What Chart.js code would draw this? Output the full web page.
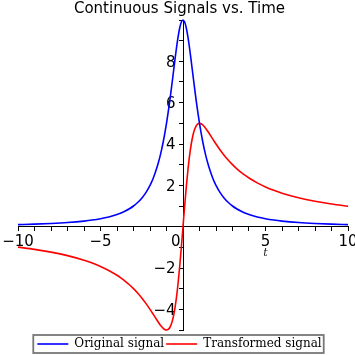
<!DOCTYPE html>
<html><head><meta charset="utf-8">
<script src="https://cdn.jsdelivr.net/npm/chart.js@4/dist/chart.umd.min.js"></script>
<style>html,body{margin:0;padding:0;background:#fff}#wrap{width:355px;height:355px}</style>
</head><body><div id="wrap"><canvas id="c" width="355" height="355"></canvas></div>
<script>
const timeValues = [-10,-9,-8,-7,-6,-5.5,-5,-4.5,-4,-3.75,-3.5,-3.25,-3,-2.75,-2.5,-2.25,
  -2,-1.9,-1.8,-1.7,-1.6,-1.5,-1.4,-1.3,-1.2,-1.1,-1,-0.9,-0.8,-0.7,-0.6,-0.5,-0.4,-0.3,-0.2,-0.1,
  0,0.1,0.2,0.3,0.4,0.5,0.6,0.7,0.8,0.9,1,1.1,1.2,1.3,1.4,1.5,1.6,1.7,1.8,1.9,2,
  2.25,2.5,2.75,3,3.25,3.5,3.75,4,4.5,5,5.5,6,7,8,9,10];
const originalSignal = [0.099,0.122,0.154,0.200,0.270,0.320,0.385,0.471,0.588,0.664,0.755,0.865,1.000,1.168,1.379,1.649,
  2.000,2.169,2.358,2.571,2.809,3.077,3.378,3.717,4.098,4.525,5.000,5.525,6.098,6.711,7.353,8.000,8.621,9.174,9.615,9.901,
  10.00,9.901,9.615,9.174,8.621,8.000,7.353,6.711,6.098,5.525,5.000,4.525,4.098,3.717,3.378,3.077,2.809,2.571,2.358,2.169,2.000,
  1.649,1.379,1.168,1.000,0.865,0.755,0.664,0.588,0.471,0.385,0.320,0.270,0.200,0.154,0.122,0.099];
const transformedSignal = [-0.990,-1.098,-1.231,-1.400,-1.622,-1.760,-1.923,-2.118,-2.353,-2.490,-2.642,-2.811,-3.000,-3.212,-3.448,-3.711,
  -4.000,-4.121,-4.245,-4.370,-4.494,-4.615,-4.730,-4.833,-4.918,-4.977,-5.000,-4.972,-4.878,-4.698,-4.412,-4.000,-3.448,-2.752,-1.923,-0.990,
  0.000,0.990,1.923,2.752,3.448,4.000,4.412,4.698,4.878,4.972,5.000,4.977,4.918,4.833,4.730,4.615,4.494,4.370,4.245,4.121,4.000,
  3.711,3.448,3.212,3.000,2.811,2.642,2.490,2.353,2.118,1.923,1.760,1.622,1.400,1.231,1.098,0.990];
const seriesLabels = ['Original signal','Transformed signal'];
const xTickLabels = [-10,-5,0,5,10];
const yTickLabels = [-4,-2,2,4,6,8];
const chartTitle = 'Continuous Signals vs. Time';
const xAxisName = 't';

const fmt = v => v < 0 ? '\u2212' + Math.abs(v) : String(v);
const pts = arr => timeValues.map((t, i) => ({x: t, y: arr[i]}));

const extras = {
  id: 'extras',
  afterDraw(chart) {
    const ctx = chart.ctx;
    const xs = chart.scales.x, ys = chart.scales.y;
    ctx.save();
    ctx.fillStyle = '#222';
    ctx.font = 'italic 11px "DejaVu Serif"';
    ctx.textAlign = 'center';
    ctx.textBaseline = 'middle';
    ctx.fillText(xAxisName, xs.getPixelForValue(5), ys.getPixelForValue(0) + 26);
    const hb = chart.legend.legendHitBoxes;
    if (hb && hb.length) {
      let l = Infinity, r = -Infinity, t = Infinity, b = -Infinity;
      hb.forEach(h => { l = Math.min(l, h.left); r = Math.max(r, h.left + h.width); t = Math.min(t, h.top); b = Math.max(b, h.top + h.height); });
      ctx.strokeStyle = '#777';
      ctx.lineWidth = 1.8;
      ctx.strokeRect(l - 4, t - 3, (r - l) + 6, (b - t) + 6);
    }
    ctx.restore();
  }
};

new Chart(document.getElementById('c'), {
  type: 'line',
  data: {
    datasets: [
      {label: seriesLabels[0], data: pts(originalSignal), borderColor: '#0000ff', backgroundColor: '#0000ff', borderWidth: 1.6, pointRadius: 0, cubicInterpolationMode: 'monotone', clip: false},
      {label: seriesLabels[1], data: pts(transformedSignal), borderColor: '#ff0000', backgroundColor: '#ff0000', borderWidth: 1.6, pointRadius: 0, cubicInterpolationMode: 'monotone', clip: false}
    ]
  },
  options: {
    responsive: false,
    animation: false,
    layout: {padding: {top: 0, bottom: -5, left: 4, right: 0}},
    plugins: {
      title: {display: true, text: chartTitle, color: '#000', font: {family: 'DejaVu Sans', size: 15, weight: 'normal'}, padding: {top: 0, bottom: 2}},
      legend: {
        position: 'bottom', align: 'center',
        labels: {usePointStyle: true, pointStyle: 'line', pointStyleWidth: 31, boxHeight: 12, padding: 2, color: '#000', font: {family: 'DejaVu Serif', size: 12}},
        title: {display: true, text: ' ', font: {size: 5}, padding: 0}
      },
      tooltip: {enabled: false}
    },
    scales: {
      x: {
        type: 'linear', min: -10, max: 10, position: {y: 0},
        ticks: {stepSize: 1, autoSkip: false, maxRotation: 0, minRotation: 0, color: '#000', padding: 2,
          font: {family: 'DejaVu Sans', size: 15},
          callback: v => xTickLabels.includes(v) ? (v === 0 ? '0   ' : fmt(v)) : ''},
        grid: {drawOnChartArea: false, drawTicks: true, tickLength: 4, color: '#000', tickColor: '#000'},
        border: {display: true, color: '#000', width: 1},
        afterFit(s) { s.paddingLeft = 18; s.paddingRight = 7; s.paddingTop = 0; s.paddingBottom = 0; }
      },
      y: {
        type: 'linear', min: -5, max: 10, position: {x: 0},
        ticks: {stepSize: 1, autoSkip: false, color: '#000', padding: 3, labelOffset: 1.5,
          font: {family: 'DejaVu Sans', size: 15},
          callback: v => yTickLabels.includes(v) ? fmt(v) + '\u2005\u2005' : ''},
        grid: {drawOnChartArea: false, drawTicks: true, tickLength: 4, color: '#000', tickColor: '#000'},
        border: {display: true, color: '#000', width: 1},
        afterFit(s) { s.paddingLeft = 0; s.paddingRight = 0; s.paddingTop = 0; s.paddingBottom = 0; }
      }
    }
  },
  plugins: [extras]
});
</script>
</body></html>
